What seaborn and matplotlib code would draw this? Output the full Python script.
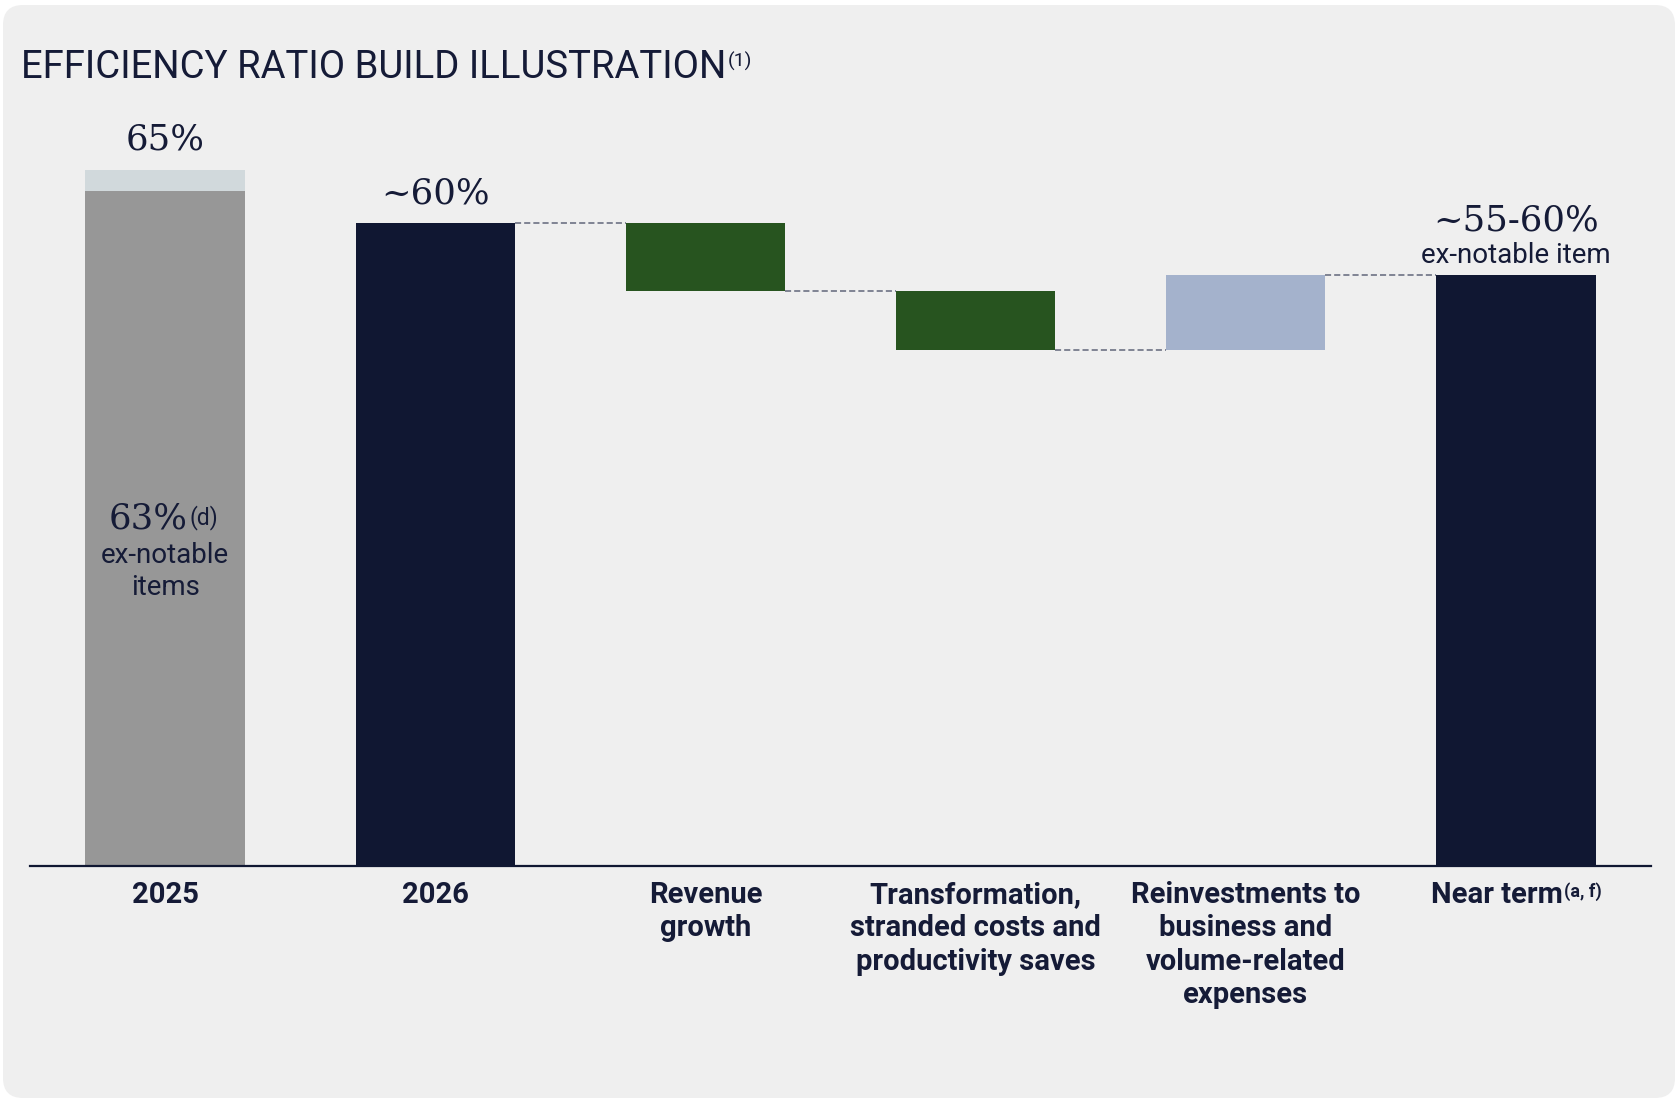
import matplotlib
matplotlib.use("Agg")
import matplotlib.pyplot as plt
import pandas as pd
import seaborn as sns
from matplotlib.patches import FancyBboxPatch
from matplotlib.transforms import IdentityTransform

# ---- data -----------------------------------------------------------------
keys = ["2025", "2026", "revenue", "transformation", "reinvestments", "near_term"]
category_labels = [
    "2025",
    "2026",
    "Revenue\ngrowth",
    "Transformation,\nstranded costs and\nproductivity saves",
    "Reinvestments to\nbusiness and\nvolume-related\nexpenses",
    "Near term",
]
reported_2025 = 65.0          # reported efficiency ratio, 2025
ex_notable_2025 = 63.0        # ex-notable items, 2025
ratio_2026 = 60.0
step_changes = [-6.3, -5.5, 7.0]   # revenue growth, transformation saves, reinvestments
value_labels = ["65%", "~60%", "~55-60%"]

# ---- waterfall geometry from the data ------------------------------------
levels = [ratio_2026]
for s in step_changes:
    levels.append(levels[-1] + s)
near_term = levels[-1]

bases = [0.0, 0.0]
tops = [ex_notable_2025, ratio_2026]
for prev, nxt in zip(levels[:-1], levels[1:]):
    bases.append(min(prev, nxt))
    tops.append(max(prev, nxt))
bases.append(0.0)
tops.append(near_term)
heights = [t - b for t, b in zip(tops, bases)]

df = pd.DataFrame({"key": keys, "height": heights})

# ---- style ----------------------------------------------------------------
sns.set_theme(style="white")
SANS = ["Roboto", "DejaVu Sans"]
SERIF = ["DejaVu Serif"]
plt.rcParams["font.family"] = SANS

INK = "#151b37"
NAVY = "#101732"
GRAY = "#979797"
LIGHT = "#d1d9dc"
GREEN = "#27541f"
LBLUE = "#a4b2cc"
CARD = "#efefef"
bar_colors = [GRAY, NAVY, GREEN, GREEN, LBLUE, NAVY]

W, H = 1678, 1103
fig = plt.figure(figsize=(W / 100, H / 100), dpi=100, facecolor="white")

card = FancyBboxPatch((3, 5), 1672, 1093, boxstyle="round,pad=0,rounding_size=20",
                      transform=IdentityTransform(), facecolor=CARD, edgecolor="none",
                      zorder=-10)
fig.add_artist(card)

px_per_unit = 10.71
ylim_top = 70
ax = fig.add_axes([30 / W, (H - 866) / H, 1621 / W, ylim_top * px_per_unit / H])
ax.set_facecolor("none")

BAR_W = 0.59

# reported 2025 ratio sits behind the ex-notable bar
sns.barplot(x=[keys[0]], y=[reported_2025], order=keys, color=LIGHT, saturation=1,
            width=BAR_W, errorbar=None, ax=ax, zorder=2, linewidth=0)
sns.barplot(data=df, x="key", y="height", order=keys, color=NAVY, saturation=1,
            width=BAR_W, errorbar=None, ax=ax, zorder=3, linewidth=0)
for rect, b, c in zip(ax.containers[-1], bases, bar_colors):
    rect.set_y(b)
    rect.set_facecolor(c)
    rect.set_edgecolor("none")
    rect.set_linewidth(0)

# dashed connectors between consecutive waterfall bars
for i, lvl in enumerate(levels):
    x0 = 1 + i + BAR_W / 2
    x1 = 2 + i - BAR_W / 2
    ax.plot([x0, x1], [lvl, lvl], color="#62677a", lw=1.1,
            linestyle=(0, (4, 2)), zorder=1)

ax.set_xlim(-0.5, 5.5)
ax.set_ylim(0, ylim_top)
ax.set_xlabel("")
ax.set_ylabel("")
ax.set_xticks([])
ax.set_yticks([])
for side in ["top", "left", "right"]:
    ax.spines[side].set_visible(False)
ax.spines["bottom"].set_color(NAVY)
ax.spines["bottom"].set_linewidth(1.6)
ax.spines["bottom"].set_zorder(5)


def stacked_lines(text, x, y, first_offset, step, **kw):
    """Place each line of a multi-line label on its own baseline."""
    artists = []
    for k, line in enumerate(text.split("\n")):
        artists.append(ax.annotate(line, xy=(x, y), xycoords="data",
                                   xytext=(0, first_offset - k * step),
                                   textcoords="offset points", ha="center", va="baseline",
                                   annotation_clip=False, **kw))
    return artists


# ---- title ----------------------------------------------------------------
title = fig.text(21 / W, 1 - 78 / H, "EFFICIENCY RATIO BUILD ILLUSTRATION",
                 fontsize=27.5, color=INK, ha="left", va="baseline", family=SANS)
ax.annotate("(1)", xy=(1, 0.93), xycoords=title, xytext=(1, 0), textcoords="offset points",
            ha="left", va="top", fontsize=14, color=INK, family=SANS,
            annotation_clip=False)

# ---- category labels ------------------------------------------------------
for i, lab in enumerate(category_labels):
    if keys[i] == "near_term":
        t = ax.annotate(lab, xy=(i, 0), xycoords="data", xytext=(-13.5, -26.6),
                        textcoords="offset points", ha="center", va="baseline",
                        fontsize=21, fontweight="bold", color=INK, family=SANS,
                        annotation_clip=False)
        ax.annotate("(a, f)", xy=(1, 0.95), xycoords=t, xytext=(1, 0),
                    textcoords="offset points", ha="left", va="top", fontsize=13,
                    fontweight="bold", color=INK, family=SANS, annotation_clip=False)
    else:
        stacked_lines(lab, i, 0, -26.6, 24.0, fontsize=21, fontweight="bold",
                      color=INK, family=SANS)

# ---- value labels ---------------------------------------------------------
ax.annotate(value_labels[0], xy=(0, reported_2025), xytext=(0, 14.4),
            textcoords="offset points", ha="center", va="baseline",
            fontsize=25.5, color=INK, family=SERIF)
ax.annotate(value_labels[1], xy=(1, ratio_2026), xytext=(0, 14),
            textcoords="offset points", ha="center", va="baseline",
            fontsize=25.5, color=INK, family=SERIF)
ax.annotate(value_labels[2], xy=(5, near_term), xytext=(0, 32),
            textcoords="offset points", ha="center", va="baseline",
            fontsize=25.5, color=INK, family=SERIF)
ax.annotate("ex-notable item", xy=(5, near_term), xytext=(0, 8.6),
            textcoords="offset points", ha="center", va="baseline",
            fontsize=20, color=INK, family=SANS)

# ex-notable label inside the 2025 bar
t63 = ax.annotate(f"{ex_notable_2025:.0f}%", xy=(0, ex_notable_2025 / 2), xytext=(-12, 0),
                  textcoords="offset points", ha="center", va="baseline",
                  fontsize=25.5, color=INK, family=SERIF, zorder=6)
ax.annotate("(d)", xy=(1, 0.9), xycoords=t63, xytext=(1, 0), textcoords="offset points",
            ha="left", va="top", fontsize=16.5, color=INK, family=SANS, zorder=6)
stacked_lines("ex-notable\nitems", 0, ex_notable_2025 / 2, -25, 22.5,
              fontsize=20, color=INK, family=SANS, zorder=6)

fig.savefig("out.png", dpi=100, facecolor="white")
